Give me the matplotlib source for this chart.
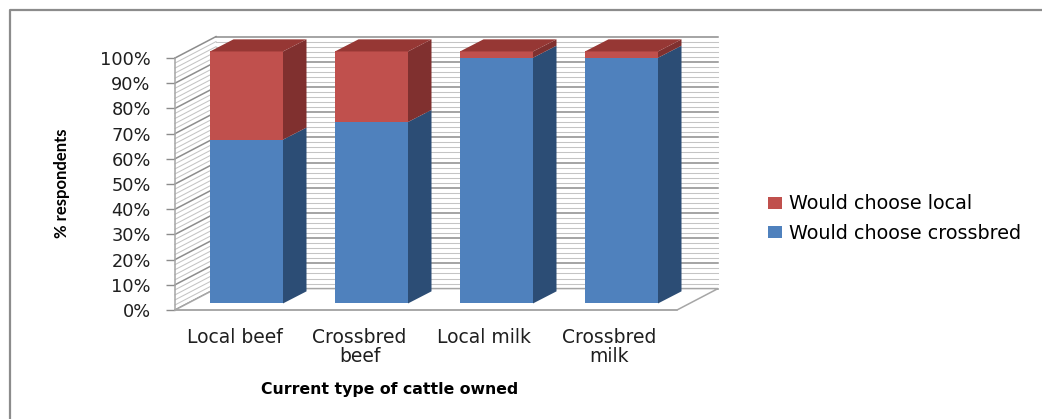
import matplotlib
matplotlib.use("Agg")
import matplotlib.pyplot as plt
from matplotlib.patches import Polygon, Patch
from matplotlib.lines import Line2D
import numpy as np

# share of respondents (%) per current cattle type
categories = ["Local beef", "Crossbred\nbeef", "Local milk", "Crossbred\nmilk"]
crossbred = [65, 72, 97.5, 97.5]
local = [35, 28, 2.5, 2.5]
yticks = list(range(0, 101, 10))

# front, side, top shades
BLUE = ("#4F81BD", "#2C4D75", "#3A6496")
RED = ("#C0504D", "#80302F", "#963734")

plt.rcParams["font.family"] = ["DejaVu Sans"]

fig = plt.figure(figsize=(10.42, 4.19), dpi=100)
ax = fig.add_axes([175 / 1042, 109 / 419, 502 / 1042, 252 / 419])
ax.set_xlim(-0.476, 3.54)
ax.set_ylim(0, 100)

# fake 3-D offsets in data units: wall depth, bar front-face shift, bar depth
WALL = (0.328, 8.5)
FACE = (0.096, 2.6)
DEPTH = (0.188, 4.8)
width = 0.584

x0, x1 = ax.get_xlim()
wx, wy = WALL

# back wall and side wall with fine gridlines every 2 %, major every 10 %
for v in np.arange(0, 100.1, 2):
    major = round(v) % 10 == 0
    c = "#8c8c8c" if major else "#c4c4c4"
    lw = 1.1 if major else 0.75
    ax.plot([x0 + wx, x1 + wx], [v + wy, v + wy], color=c, lw=lw,
            zorder=1, clip_on=False)
    ax.plot([x0, x0 + wx], [v, v + wy], color=c, lw=lw, zorder=1, clip_on=False)

# floor
ax.add_patch(Polygon([(x0, 0), (x1, 0), (x1 + wx, wy), (x0 + wx, wy)],
                     closed=True, facecolor="white", edgecolor="#a6a6a6",
                     lw=1.1, zorder=2, clip_on=False))

# stacked columns: front faces through ax.bar, side and top faces as polygons
fx, fy = FACE
dx, dy = DEPTH
xs = np.arange(len(categories)) + fx
ax.bar(xs, crossbred, width, bottom=fy, color=BLUE[0], zorder=3, clip_on=False)
ax.bar(xs, local, width, bottom=np.array(crossbred) + fy, color=RED[0],
       zorder=3, clip_on=False)

for x, b, r in zip(xs, crossbred, local):
    right = x + width / 2
    left = x - width / 2
    base = fy
    for val, cols in ((b, BLUE), (r, RED)):
        lo, hi = base, base + val
        ax.add_patch(Polygon([(right, lo), (right + dx, lo + dy),
                              (right + dx, hi + dy), (right, hi)],
                             closed=True, facecolor=cols[1], lw=0,
                             zorder=3, clip_on=False))
        base = hi
    ax.add_patch(Polygon([(left, base), (right, base), (right + dx, base + dy),
                          (left + dx, base + dy)],
                         closed=True, facecolor=RED[2], lw=0, zorder=3,
                         clip_on=False))

ax.set_yticks(yticks)
ax.set_yticklabels([f"{t}%" for t in yticks])
ax.set_xticks(range(len(categories)))
ax.set_xticklabels(categories, linespacing=1.0)
ax.tick_params(axis="y", length=6.5, width=1, color="#8c8c8c", pad=11,
               labelsize=12.8, labelcolor="#1f1f1f")
ax.tick_params(axis="x", length=0, pad=13, labelsize=13.5,
               labelcolor="#1f1f1f")
for side in ("top", "right"):
    ax.spines[side].set_visible(False)
for side in ("left", "bottom"):
    ax.spines[side].set_color("#a6a6a6")
    ax.spines[side].set_linewidth(1.1)
    ax.spines[side].set_zorder(2)

ax.set_xlabel("Current type of cattle owned", fontsize=11.3, fontweight="bold")
ax.xaxis.set_label_coords(0.427, -0.317)
ax.xaxis.label.set_verticalalignment("center")
ax.set_ylabel("% respondents", fontsize=12, fontweight="bold",
              family=["Lato", "DejaVu Sans"])
ax.yaxis.set_label_coords(-0.225, 0.504)
ax.yaxis.label.set_verticalalignment("center")

handles = [Patch(facecolor=RED[0], label="Would choose local"),
           Patch(facecolor=BLUE[0], label="Would choose crossbred")]
fig.legend(handles=handles, loc="center left", bbox_to_anchor=(0.737, 0.478),
           frameon=False, fontsize=13.8, handlelength=0.72, handleheight=0.6,
           handletextpad=0.4, labelspacing=0.55, borderpad=0,
           borderaxespad=0)

# chart-area border (top and left edges)
fig.add_artist(Line2D([10 / 1042, 10 / 1042, 1.0], [0.0, 1 - 10 / 419, 1 - 10 / 419],
                      color="#8c8c8c", lw=1.6))

fig.savefig("out.png", dpi=100)
